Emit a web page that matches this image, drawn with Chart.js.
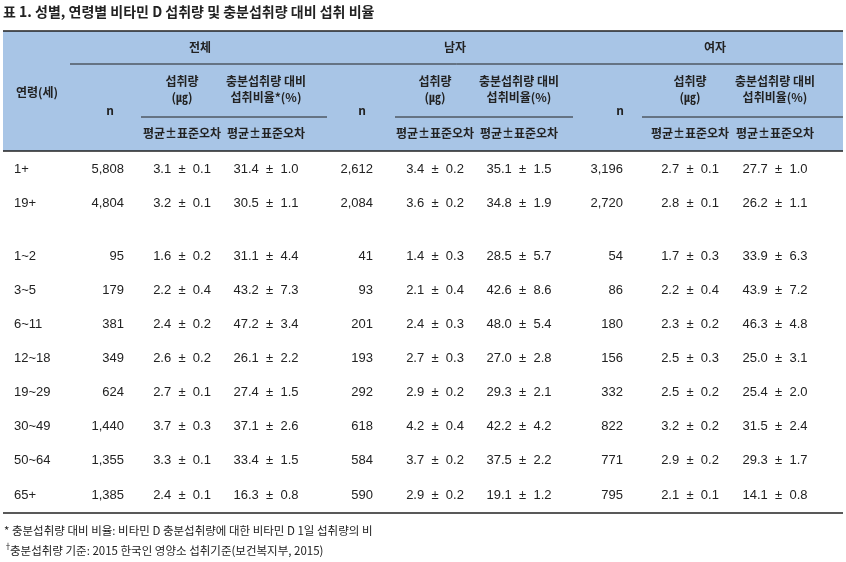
<!DOCTYPE html>
<html><head><meta charset="utf-8">
<script src="https://cdn.jsdelivr.net/npm/chart.js@4"></script>
<style>html,body{margin:0;padding:0;background:#fff}#w{width:846px;height:562px}</style>
</head><body><div id="w"><canvas id="c"></canvas></div>
<script>
const ages = ['1+','19+','1~2','3~5','6~11','12~18','19~29','30~49','50~64','65+'];
const totalN = ['5,808','4,804','95','179','381','349','624','1,440','1,355','1,385'];
const totalIntake = ['3.1 ± 0.1','3.2 ± 0.1','1.6 ± 0.2','2.2 ± 0.4','2.4 ± 0.2','2.6 ± 0.2','2.7 ± 0.1','3.7 ± 0.3','3.3 ± 0.1','2.4 ± 0.1'];
const totalRatio = ['31.4 ± 1.0','30.5 ± 1.1','31.1 ± 4.4','43.2 ± 7.3','47.2 ± 3.4','26.1 ± 2.2','27.4 ± 1.5','37.1 ± 2.6','33.4 ± 1.5','16.3 ± 0.8'];
const maleN = ['2,612','2,084','41','93','201','193','292','618','584','590'];
const maleIntake = ['3.4 ± 0.2','3.6 ± 0.2','1.4 ± 0.3','2.1 ± 0.4','2.4 ± 0.3','2.7 ± 0.3','2.9 ± 0.2','4.2 ± 0.4','3.7 ± 0.2','2.9 ± 0.2'];
const maleRatio = ['35.1 ± 1.5','34.8 ± 1.9','28.5 ± 5.7','42.6 ± 8.6','48.0 ± 5.4','27.0 ± 2.8','29.3 ± 2.1','42.2 ± 4.2','37.5 ± 2.2','19.1 ± 1.2'];
const femaleN = ['3,196','2,720','54','86','180','156','332','822','771','795'];
const femaleIntake = ['2.7 ± 0.1','2.8 ± 0.1','1.7 ± 0.3','2.2 ± 0.4','2.3 ± 0.2','2.5 ± 0.3','2.5 ± 0.2','3.2 ± 0.2','2.9 ± 0.2','2.1 ± 0.1'];
const femaleRatio = ['27.7 ± 1.0','26.2 ± 1.1','33.9 ± 6.3','43.9 ± 7.2','46.3 ± 4.8','25.0 ± 3.1','25.4 ± 2.0','31.5 ± 2.4','29.3 ± 1.7','14.1 ± 0.8'];
const groups = ['전체','남자','여자'];
const title = '표 1. 성별, 연령별 비타민 D 섭취량 및 충분섭취량 대비 섭취 비율';
const notes = ['* 충분섭취량 대비 비율: 비타민 D 충분섭취량에 대한 비타민 D 1일 섭취량의 비','충분섭취량 기준: 2015 한국인 영양소 섭취기준(보건복지부, 2015)'];

const cols = [totalN,totalIntake,totalRatio,maleN,maleIntake,maleRatio,femaleN,femaleIntake,femaleRatio];
const colX = [124,182,266,373,435,519,623,690,775];
const colAlign = ['right','center','center','right','center','center','right','center','center'];
const rowPos = ages.map((a,i)=> i + (i>=2 ? 0.55 : 0));
const KR = '"Noto Sans CJK KR","Noto Sans",sans-serif';
const NUM = '"Liberation Sans Narrow","Liberation Sans",Arial,sans-serif';

const tablePlugin = {
  id:'table',
  beforeDraw(chart){
    const ctx=chart.ctx, xs=chart.scales.x, ys=chart.scales.y;
    const X=v=>xs.getPixelForValue(v);
    ctx.save();
    ctx.fillStyle='#fff';ctx.fillRect(0,0,chart.width,chart.height);
    ctx.fillStyle='#222';ctx.font='bold 14px '+KR;ctx.textBaseline='middle';ctx.textAlign='left';
    ctx.fillText(title,X(3),12);
    ctx.fillStyle='#a8c5e6';ctx.fillRect(X(3),31,X(843)-X(3),120);
    ctx.strokeStyle='#222';ctx.lineWidth=1.5;
    ctx.beginPath();ctx.moveTo(X(3),31);ctx.lineTo(X(843),31);ctx.moveTo(X(3),151);ctx.lineTo(X(843),151);ctx.stroke();
    ctx.lineWidth=1;ctx.beginPath();
    ctx.moveTo(X(70),64);ctx.lineTo(X(843),64);
    [[141,327],[395,573],[642,843]].forEach(s=>{ctx.moveTo(X(s[0]),117);ctx.lineTo(X(s[1]),117);});
    ctx.stroke();
    ctx.fillStyle='#222';ctx.font='bold 12px '+KR;ctx.textAlign='center';
    const gx=[200,455,715];
    groups.forEach((g,i)=>ctx.fillText(g,X(gx[i]),47));
    ctx.fillText('연령(세)',X(37),92);
    for(let g=0;g<3;g++){
      const b=g*3;
      ctx.fillText('n',X([110,362,620][g]),110);
      ctx.fillText('섭취량',X(colX[b+1]),81);
      ctx.fillText('(㎍)',X(colX[b+1]),97);
      ctx.fillText('충분섭취량 대비',X(colX[b+2]),81);
      ctx.fillText(g===0?'섭취비율*(%)':'섭취비율(%)',X(colX[b+2]),97);
      ctx.fillText('평균±표준오차',X(colX[b+1]),133);
      ctx.fillText('평균±표준오차',X(colX[b+2]),133);
    }
    ctx.font='13px '+NUM;ctx.fillStyle='#222';
    ages.forEach((a,r)=>{
      const y=ys.getPixelForValue(rowPos[r]);
      ctx.textAlign='left';ctx.fillText(a,X(14),y);
      cols.forEach((c,k)=>{ctx.textAlign=colAlign[k];ctx.fillText(c[r].replace(' ± ','  ±  '),X(colX[k]),y);});
    });
    ctx.lineWidth=1.5;ctx.beginPath();ctx.moveTo(X(3),513);ctx.lineTo(X(843),513);ctx.stroke();
    ctx.font='11.5px '+KR;ctx.textAlign='left';
    ctx.fillText(notes[0],X(4),531);
    ctx.font='8px '+KR;ctx.fillText('†',X(4),546);
    ctx.font='11.5px '+KR;ctx.fillText(notes[1],X(10),551);
    ctx.restore();
  }
};

new Chart(document.getElementById('c'),{
  type:'scatter',
  data:{datasets:[{data:ages.map((a,i)=>({x:0,y:rowPos[i]})),pointRadius:0}]},
  options:{responsive:true,maintainAspectRatio:false,animation:false,
    layout:{padding:{top:169,bottom:67,left:0,right:0}},
    plugins:{legend:{display:false},tooltip:{enabled:false}},
    scales:{x:{type:'linear',min:0,max:846,display:false},
            y:{type:'linear',min:0,max:9.55,reverse:true,display:false}}},
  plugins:[tablePlugin]
});
</script></body></html>
